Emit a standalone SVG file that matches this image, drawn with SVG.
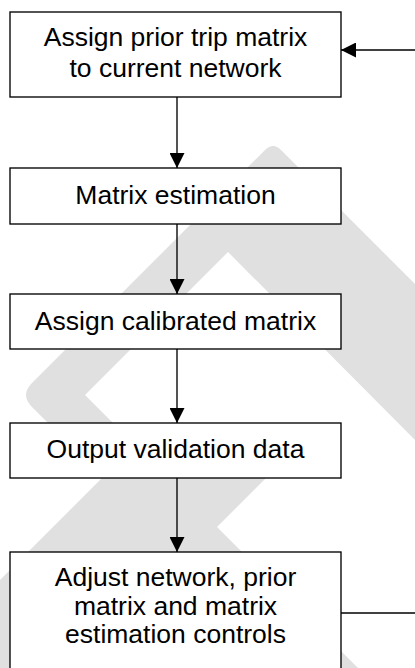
<svg xmlns="http://www.w3.org/2000/svg" width="415" height="668" viewBox="0 0 415 668">
  <defs>
    <style>
      .box { fill: #ffffff; stroke: #000000; stroke-width: 1.35; }
      .lbl { font-family: "Liberation Sans", Arial, sans-serif; font-size: 26.5px; fill: #000000; text-anchor: middle; }
      .wire { fill: none; stroke: #000000; stroke-width: 1.35; }
      .mark { fill: #e0e0e0; }
    </style>
    <marker id="head" viewBox="0 0 15 15" refX="15" refY="7.5" markerWidth="15" markerHeight="15" markerUnits="userSpaceOnUse" orient="auto">
      <path d="M0,0 L15,7.5 L0,15 Z" fill="#000000"/>
    </marker>
  </defs>

  <rect width="415" height="668" fill="#ffffff"/>

  <!-- light background chevrons -->
  <g id="backdrop">
    <path class="mark" d="M440,309 L281,150 Q273,142 265,150 L32,383 Q20,395 32,407 L300,675 L370,680
      L85,395 L228,252 L440,465 Z"/>
    <path class="mark" d="M155,425 L268,476 L-30,774 L-30,610 Z"/>
  </g>

  <!-- connectors -->
  <g id="connectors">
    <line class="wire" x1="177" y1="97" x2="177" y2="168" marker-end="url(#head)"/>
    <line class="wire" x1="177" y1="224" x2="177" y2="294" marker-end="url(#head)"/>
    <line class="wire" x1="177" y1="349" x2="177" y2="423" marker-end="url(#head)"/>
    <line class="wire" x1="177" y1="478" x2="177" y2="552" marker-end="url(#head)"/>
    <line class="wire" x1="341" y1="613" x2="420" y2="613"/>
    <line class="wire" x1="420" y1="50" x2="341" y2="50" marker-end="url(#head)"/>
  </g>

  <g id="assign-prior">
    <rect class="box" x="10" y="12" width="331" height="85"/>
    <text class="lbl" x="175.5" y="45.5">Assign prior trip matrix</text>
    <text class="lbl" x="175.5" y="76.5">to current network</text>
  </g>

  <g id="matrix-estimation">
    <rect class="box" x="10" y="168" width="331" height="56"/>
    <text class="lbl" x="175.5" y="204">Matrix estimation</text>
  </g>

  <g id="assign-calibrated">
    <rect class="box" x="10" y="294" width="331" height="55"/>
    <text class="lbl" x="175.5" y="330">Assign calibrated matrix</text>
  </g>

  <g id="output-validation">
    <rect class="box" x="10" y="423" width="331" height="55"/>
    <text class="lbl" x="175.5" y="457.5">Output validation data</text>
  </g>

  <g id="adjust-controls">
    <rect class="box" x="10" y="552" width="331" height="130"/>
    <text class="lbl" x="175.5" y="586">Adjust network, prior</text>
    <text class="lbl" x="175.5" y="614.5">matrix and matrix</text>
    <text class="lbl" x="175.5" y="643">estimation controls</text>
  </g>
</svg>
